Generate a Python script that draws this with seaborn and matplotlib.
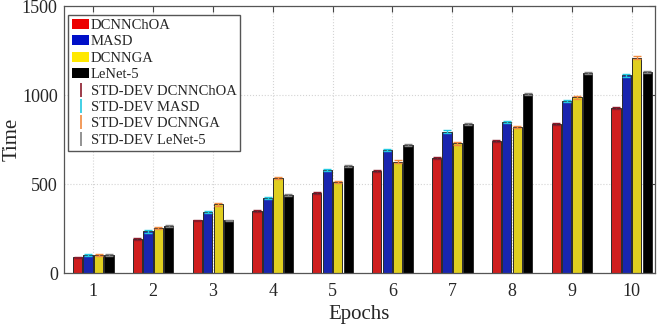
import pandas as pd
import seaborn as sns
import numpy as np
import matplotlib as mpl
mpl.use('Agg')
import matplotlib.pyplot as plt
from matplotlib.patches import Patch
from matplotlib.lines import Line2D

epochs = ['1', '2', '3', '4', '5', '6', '7', '8', '9', '10']
dcnnchoa = [88, 190, 295, 350, 450, 575, 645, 740, 835, 925]
masd = [100, 235, 345, 420, 580, 690, 795, 850, 965, 1110]
dcnnga = [100, 255, 385, 535, 510, 625, 728, 820, 988, 1210]
lenet = [100, 265, 295, 440, 600, 720, 835, 1005, 1125, 1130]
std_dcnnchoa = [4, 4, 5, 5, 5, 5, 5, 5, 5, 5]
std_masd = [5, 8, 6, 6, 6, 6, 6, 6, 6, 7]
std_dcnnga = [5, 5, 6, 6, 7, 8, 7, 7, 8, 7]
std_lenet = [4, 6, 5, 5, 5, 5, 5, 5, 6, 6]

methods = ['DCNNChOA', 'MASD', 'DCNNGA', 'LeNet-5']
colors = ['#ec0000', '#0010c8', '#ffe800', '#000000']
err_colors = ['#8b1a2a', '#22c8e0', '#f08a40', '#808080']

df = pd.DataFrame({'Epochs': epochs * 4,
                   'Time': dcnnchoa + masd + dcnnga + lenet,
                   'Method': np.repeat(methods, len(epochs))})
stds = [std_dcnnchoa, std_masd, std_dcnnga, std_lenet]

sns.set_style('white')
plt.rcParams['font.family'] = ['Liberation Serif', 'DejaVu Serif']

fig = plt.figure(figsize=(6.62, 3.24), dpi=100)
ax = fig.add_axes([0.0967, 0.1574, 0.8927, 0.824])
sns.barplot(data=df, x='Epochs', y='Time', hue='Method', hue_order=methods,
            palette=colors, width=0.7, gap=0.12, edgecolor='#2a2a2a',
            linewidth=0.7, errorbar=None, legend=False, ax=ax)

# error bars at the bar centres
bars = list(ax.containers)
for i, cont in enumerate(bars):
    xs = [p.get_x() + p.get_width() / 2 for p in cont.patches]
    hs = [p.get_height() for p in cont.patches]
    ax.errorbar(xs, hs, yerr=stds[i], fmt='none', ecolor=err_colors[i],
                elinewidth=1.0, capsize=3, capthick=1.0, zorder=5)

ax.set_ylim(0, 1500)
ax.set_xlim(-0.49, 9.39)
ax.set_yticks([0, 500, 1000, 1500])
ax.set_xlabel('Epochs', fontsize=15, labelpad=4)
ax.set_ylabel('Time', fontsize=15, labelpad=0)
ax.tick_params(labelsize=13, direction='in', top=True, right=True,
               length=4, color='#444444')
ax.tick_params(axis='y', pad=4.5)
ax.tick_params(axis='x', pad=7)
ax.grid(True, color='#d4d4d4', linestyle=':', linewidth=0.8)
ax.set_axisbelow(True)
for s in ax.spines.values():
    s.set_color('#555555')
    s.set_linewidth(0.9)

handles = [Patch(facecolor=c, edgecolor='none') for c in colors]
handles += [Line2D([0], [0], color=c, marker='|', markersize=10,
                   linestyle='none', markeredgewidth=1.2) for c in err_colors]
labels = methods + ['STD-DEV ' + m for m in methods]
ax.legend(handles, labels, loc='upper left', bbox_to_anchor=(0.007, 0.966),
          borderaxespad=0, fontsize=10.5, frameon=True,
          fancybox=False, edgecolor='#555555', framealpha=1,
          handlelength=1.2, handletextpad=0.1, labelspacing=0.22,
          borderpad=0.25)

plt.savefig('out.png', dpi=100)
